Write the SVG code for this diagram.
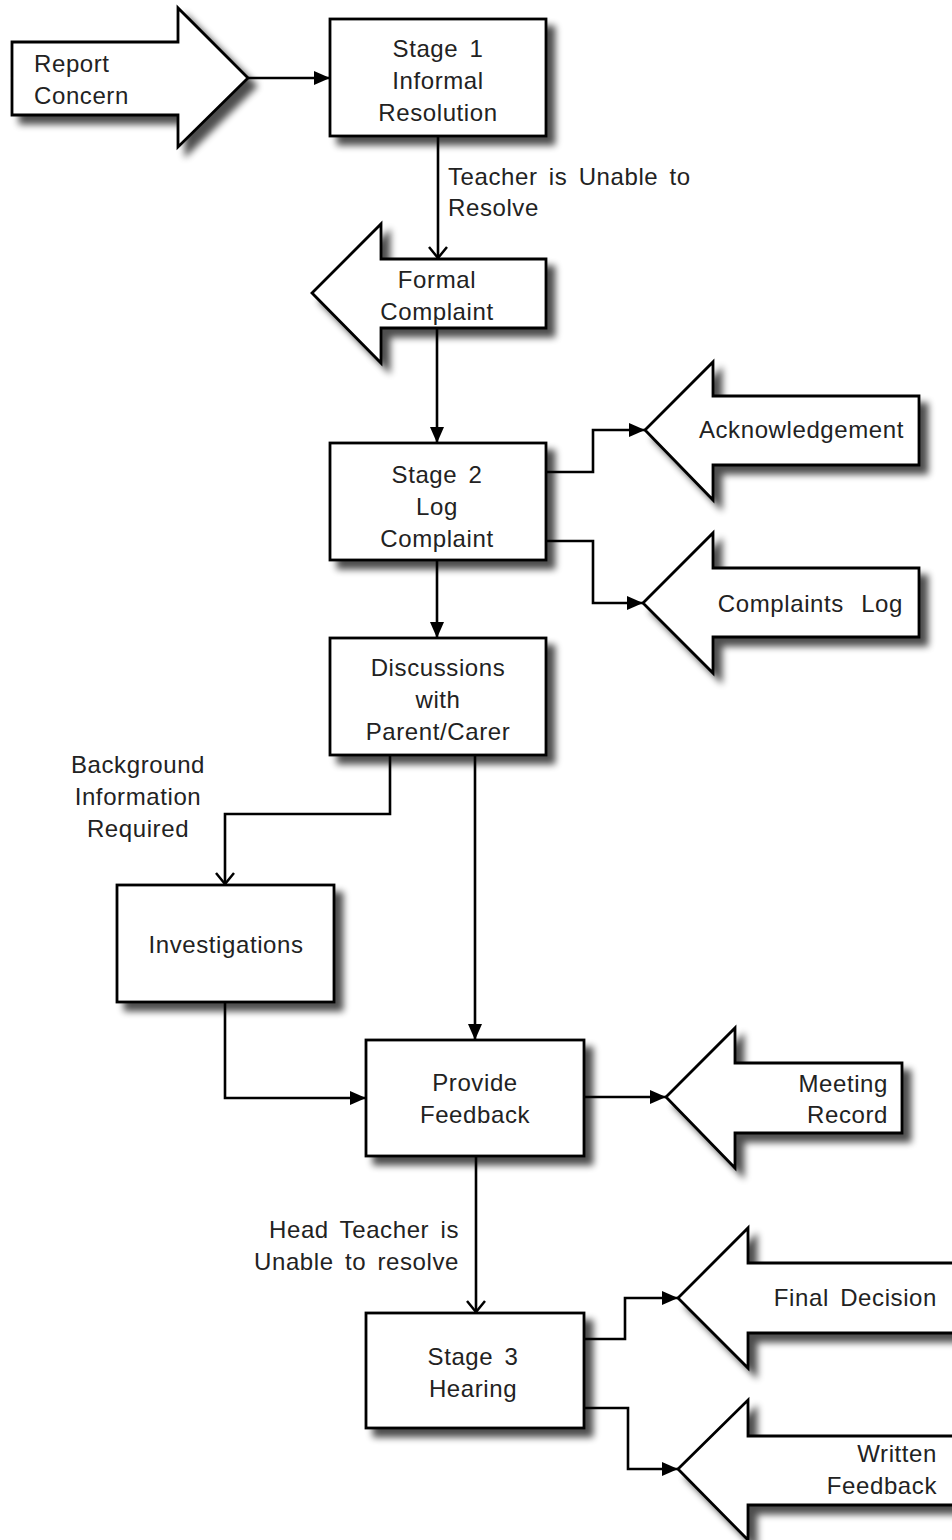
<svg xmlns="http://www.w3.org/2000/svg" width="952" height="1540" viewBox="0 0 952 1540">
<defs>
<filter id="sh" x="-20%" y="-20%" width="150%" height="150%">
<feGaussianBlur in="SourceAlpha" stdDeviation="3.5" result="b"/>
<feOffset in="b" dx="8" dy="8" result="o"/>
<feComponentTransfer in="o" result="s"><feFuncA type="linear" slope="0.7"/></feComponentTransfer>
<feMerge><feMergeNode in="s"/><feMergeNode in="SourceGraphic"/></feMerge>
</filter>
<marker id="fa" viewBox="0 0 16 14" refX="16" refY="7" markerWidth="16" markerHeight="14" markerUnits="userSpaceOnUse" orient="auto">
<path d="M0,0 L16,7 L0,14 Z" fill="#000"/>
</marker>
<marker id="va" viewBox="0 0 14 20" refX="12" refY="10" markerWidth="14" markerHeight="20" markerUnits="userSpaceOnUse" orient="auto">
<path d="M1,1 L12,10 L1,19" fill="none" stroke="#000" stroke-width="2.5"/>
</marker>
</defs>
<style>
.n{fill:#fff;stroke:#000;stroke-width:2.8;filter:url(#sh)}
.c{fill:none;stroke:#000;stroke-width:2.6}
text{font-family:"Liberation Sans",Arial,sans-serif;font-size:24px;fill:#222;letter-spacing:0.6px;word-spacing:4px}
.m{text-anchor:middle}
.e{text-anchor:end}
</style>
<rect width="952" height="1540" fill="#fff"/>

<g id="connectors">
<path class="c" d="M248,78 H330" marker-end="url(#fa)"/>
<path class="c" d="M438,136 V258" marker-end="url(#va)"/>
<path class="c" d="M437,328 V443" marker-end="url(#fa)"/>
<path class="c" d="M546,472 H593 V430 H645" marker-end="url(#fa)"/>
<path class="c" d="M546,541 H593 V603 H643" marker-end="url(#fa)"/>
<path class="c" d="M437,560 V638" marker-end="url(#fa)"/>
<path class="c" d="M390,755 V814 H225 V884" marker-end="url(#va)"/>
<path class="c" d="M475,755 V1040" marker-end="url(#fa)"/>
<path class="c" d="M225,1002 V1098 H366" marker-end="url(#fa)"/>
<path class="c" d="M584,1097 H666" marker-end="url(#fa)"/>
<path class="c" d="M476,1156 V1312" marker-end="url(#va)"/>
<path class="c" d="M584,1339 H625 V1298 H678" marker-end="url(#fa)"/>
<path class="c" d="M584,1408 H628 V1469 H678" marker-end="url(#fa)"/>
</g>

<g id="report-concern">
<polygon class="n" points="12,42 178,42 178,8 248,78 178,147 178,115 12,115"/>
<text x="34" y="72">Report</text>
<text x="34" y="104">Concern</text>
</g>

<g id="stage1">
<rect class="n" x="330" y="19" width="216" height="117"/>
<text class="m" x="438" y="57">Stage 1</text>
<text class="m" x="438" y="89">Informal</text>
<text class="m" x="438" y="121">Resolution</text>
</g>

<g id="label-teacher">
<text x="448" y="185">Teacher is Unable to</text>
<text x="448" y="216">Resolve</text>
</g>

<g id="formal-complaint">
<polygon class="n" points="546,259 546,328 381,328 381,363 312,293 381,224 381,259"/>
<text class="m" x="437" y="288">Formal</text>
<text class="m" x="437" y="320">Complaint</text>
</g>

<g id="stage2">
<rect class="n" x="330" y="443" width="216" height="117"/>
<text class="m" x="437" y="483">Stage 2</text>
<text class="m" x="437" y="515">Log</text>
<text class="m" x="437" y="547">Complaint</text>
</g>

<g id="acknowledgement">
<polygon class="n" points="919,396 919,465 713,465 713,500 645,430 713,362 713,396"/>
<text class="e" x="904" y="438">Acknowledgement</text>
</g>

<g id="complaints-log">
<polygon class="n" points="919,568 919,637 713,637 713,673 643,603 713,533 713,568"/>
<text class="e" x="903" y="612" style="word-spacing:10px">Complaints Log</text>
</g>

<g id="discussions">
<rect class="n" x="330" y="638" width="216" height="117"/>
<text class="m" x="438" y="676">Discussions</text>
<text class="m" x="438" y="708">with</text>
<text class="m" x="438" y="740">Parent/Carer</text>
</g>

<g id="label-background">
<text class="m" x="138" y="773">Background</text>
<text class="m" x="138" y="805">Information</text>
<text class="m" x="138" y="837">Required</text>
</g>

<g id="investigations">
<rect class="n" x="117" y="885" width="217" height="117"/>
<text class="m" x="226" y="953">Investigations</text>
</g>

<g id="provide-feedback">
<rect class="n" x="366" y="1040" width="218" height="116"/>
<text class="m" x="475" y="1091">Provide</text>
<text class="m" x="475" y="1123">Feedback</text>
</g>

<g id="meeting-record">
<polygon class="n" points="902,1063 902,1133 735,1133 735,1168 666,1097 735,1028 735,1063"/>
<text class="e" x="888" y="1092">Meeting</text>
<text class="e" x="888" y="1123">Record</text>
</g>

<g id="label-head-teacher">
<text class="e" x="459" y="1238">Head Teacher is</text>
<text class="e" x="459" y="1270">Unable to resolve</text>
</g>

<g id="stage3">
<rect class="n" x="366" y="1313" width="218" height="115"/>
<text class="m" x="473" y="1365">Stage 3</text>
<text class="m" x="473" y="1397">Hearing</text>
</g>

<g id="final-decision">
<polygon class="n" points="960,1263 960,1333 748,1333 748,1368 678,1298 748,1228 748,1263"/>
<text class="e" x="937" y="1306">Final Decision</text>
</g>

<g id="written-feedback">
<polygon class="n" points="960,1436 960,1505 748,1505 748,1540 678,1469 748,1400 748,1436"/>
<text class="e" x="937" y="1462">Written</text>
<text class="e" x="937" y="1494">Feedback</text>
</g>
</svg>
